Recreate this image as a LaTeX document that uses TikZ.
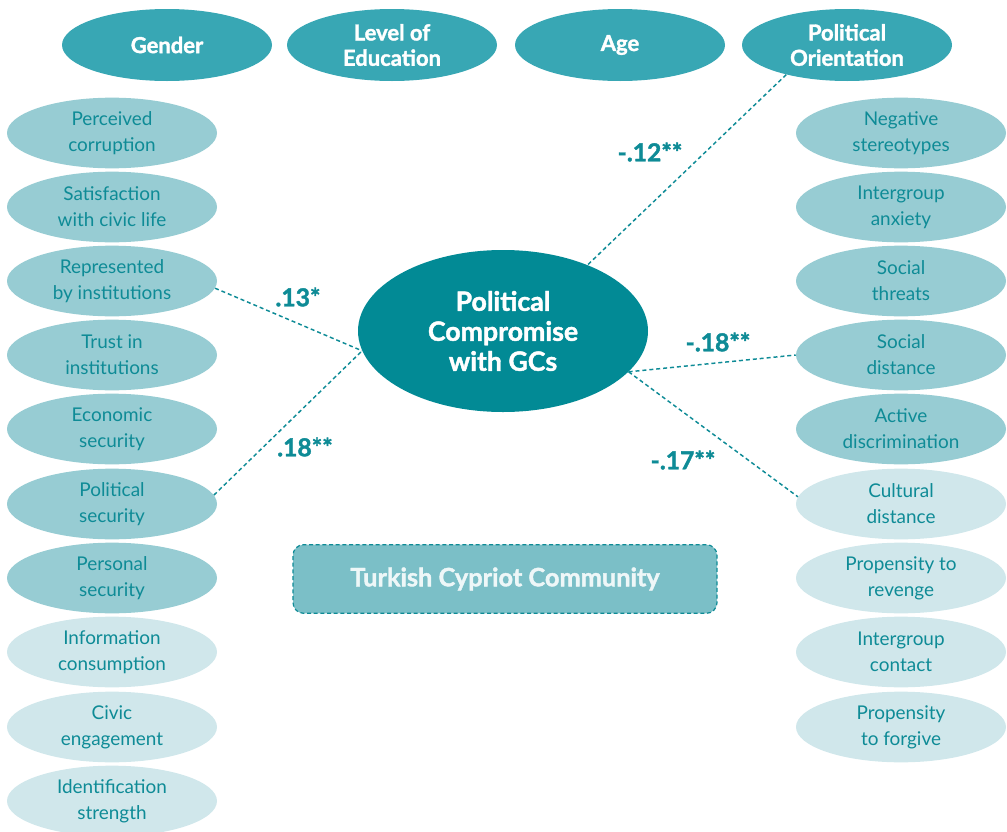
\documentclass[tikz,border=0pt]{standalone}
\usepackage{fontspec}
\setmainfont{Lato}[BoldFeatures={FakeBold=1.6}]
\usetikzlibrary{shapes.geometric}
\definecolor{topc}{HTML}{38A7B4}
\definecolor{midc}{HTML}{97CCD3}
\definecolor{lightc}{HTML}{D0E7EB}
\definecolor{centc}{HTML}{028A95}
\definecolor{boxc}{HTML}{7BBFC7}
\definecolor{txtc}{HTML}{0E8B96}
\definecolor{boxtxt}{HTML}{EEF7F8}
\tikzset{
  topel/.style={ellipse, fill=topc, draw=none, minimum width=157.5pt, minimum height=54pt, inner sep=0pt, align=center, text=white, font=\bfseries\fontsize{16.5}{19}\selectfont},
  var/.style={ellipse, draw=none, minimum width=157.5pt, minimum height=53pt, inner sep=0pt, align=center, text=txtc, font=\fontsize{14.2}{19.5}\selectfont},
  midel/.style={var, fill=midc},
  lightel/.style={var, fill=lightc},
  link/.style={draw=txtc, dash pattern=on 3pt off 2.2pt, line width=1.1pt},
  coef/.style={text=txtc, font=\bfseries\fontsize{18.5}{20}\selectfont, inner sep=0pt},
}
\begin{document}
\begin{tikzpicture}[x=0.75pt,y=-0.75pt]
\useasboundingbox (0,0) rectangle (1007,832);
% top
\node[topel] (gender) at (167,45) {Gender};
\node[topel] (edu) at (392,45) {Level of\\Education};
\node[topel] (age) at (620,45) {Age};
\node[topel] (po) at (847,45) {Political\\Orientation};
% left column
\node[midel] (pc) at (112,133) {Perceived\\corruption};
\node[midel] (sat) at (112,207) {Satisfaction\\with civic life};
\node[midel] (rep) at (112,281) {Represented\\by institutions};
\node[midel] (trust) at (112,355) {Trust in\\institutions};
\node[midel] (econ) at (112,429) {Economic\\security};
\node[midel] (polsec) at (112,504) {Political\\security};
\node[midel] (pers) at (112,578) {Personal\\security};
\node[lightel] (info) at (112,652) {Information\\consumption};
\node[lightel] (civic) at (112,727) {Civic\\engagement};
\node[lightel] (ident) at (112,801) {Identification\\strength};
% right column
\node[midel] (neg) at (901,133) {Negative\\stereotypes};
\node[midel] (anx) at (901,207) {Intergroup\\anxiety};
\node[midel] (thr) at (901,281) {Social\\threats};
\node[midel] (sd) at (901,355) {Social\\distance};
\node[midel] (act) at (901,429) {Active\\discrimination};
\node[lightel] (cult) at (901,504) {Cultural\\distance};
\node[lightel] (rev) at (901,578) {Propensity to\\revenge};
\node[lightel] (cont) at (901,652) {Intergroup\\contact};
\node[lightel] (forg) at (901,727) {Propensity\\to forgive};
% center
\node[ellipse, fill=centc, minimum width=217.5pt, minimum height=121.5pt, inner sep=0pt, align=center, text=white, font=\bfseries\fontsize{20}{22.5}\selectfont] (pc0) at (503,331) {Political\\Compromise\\with GCs};
% box
\node[draw=txtc, dash pattern=on 3pt off 2pt, line width=0.9pt, fill=boxc, rounded corners=8pt, minimum width=318pt, minimum height=51.5pt, text=boxtxt, font=\bfseries\fontsize{19}{20}\selectfont] (tcc) at (505,579) {Turkish Cypriot Community};
% links
\draw[link] (po.206) -- (pc0.38);
\draw[link] (rep.-4) -- (pc0.188);
\draw[link] (polsec.5) -- (pc0.188);
\draw[link] (pc0.-18) -- (sd.west);
\draw[link] (pc0.-18) -- (cult.176);
% coefficients
\node[coef] (c1) at (650,152) {-.12**};
\node[coef] (c2) at (298,297) {.13*};
\node[coef] (c3) at (305,447) {.18**};
\node[coef] (c4) at (718,342) {-.18**};
\node[coef] (c5) at (683,460) {-.17**};
\end{tikzpicture}
\end{document}
